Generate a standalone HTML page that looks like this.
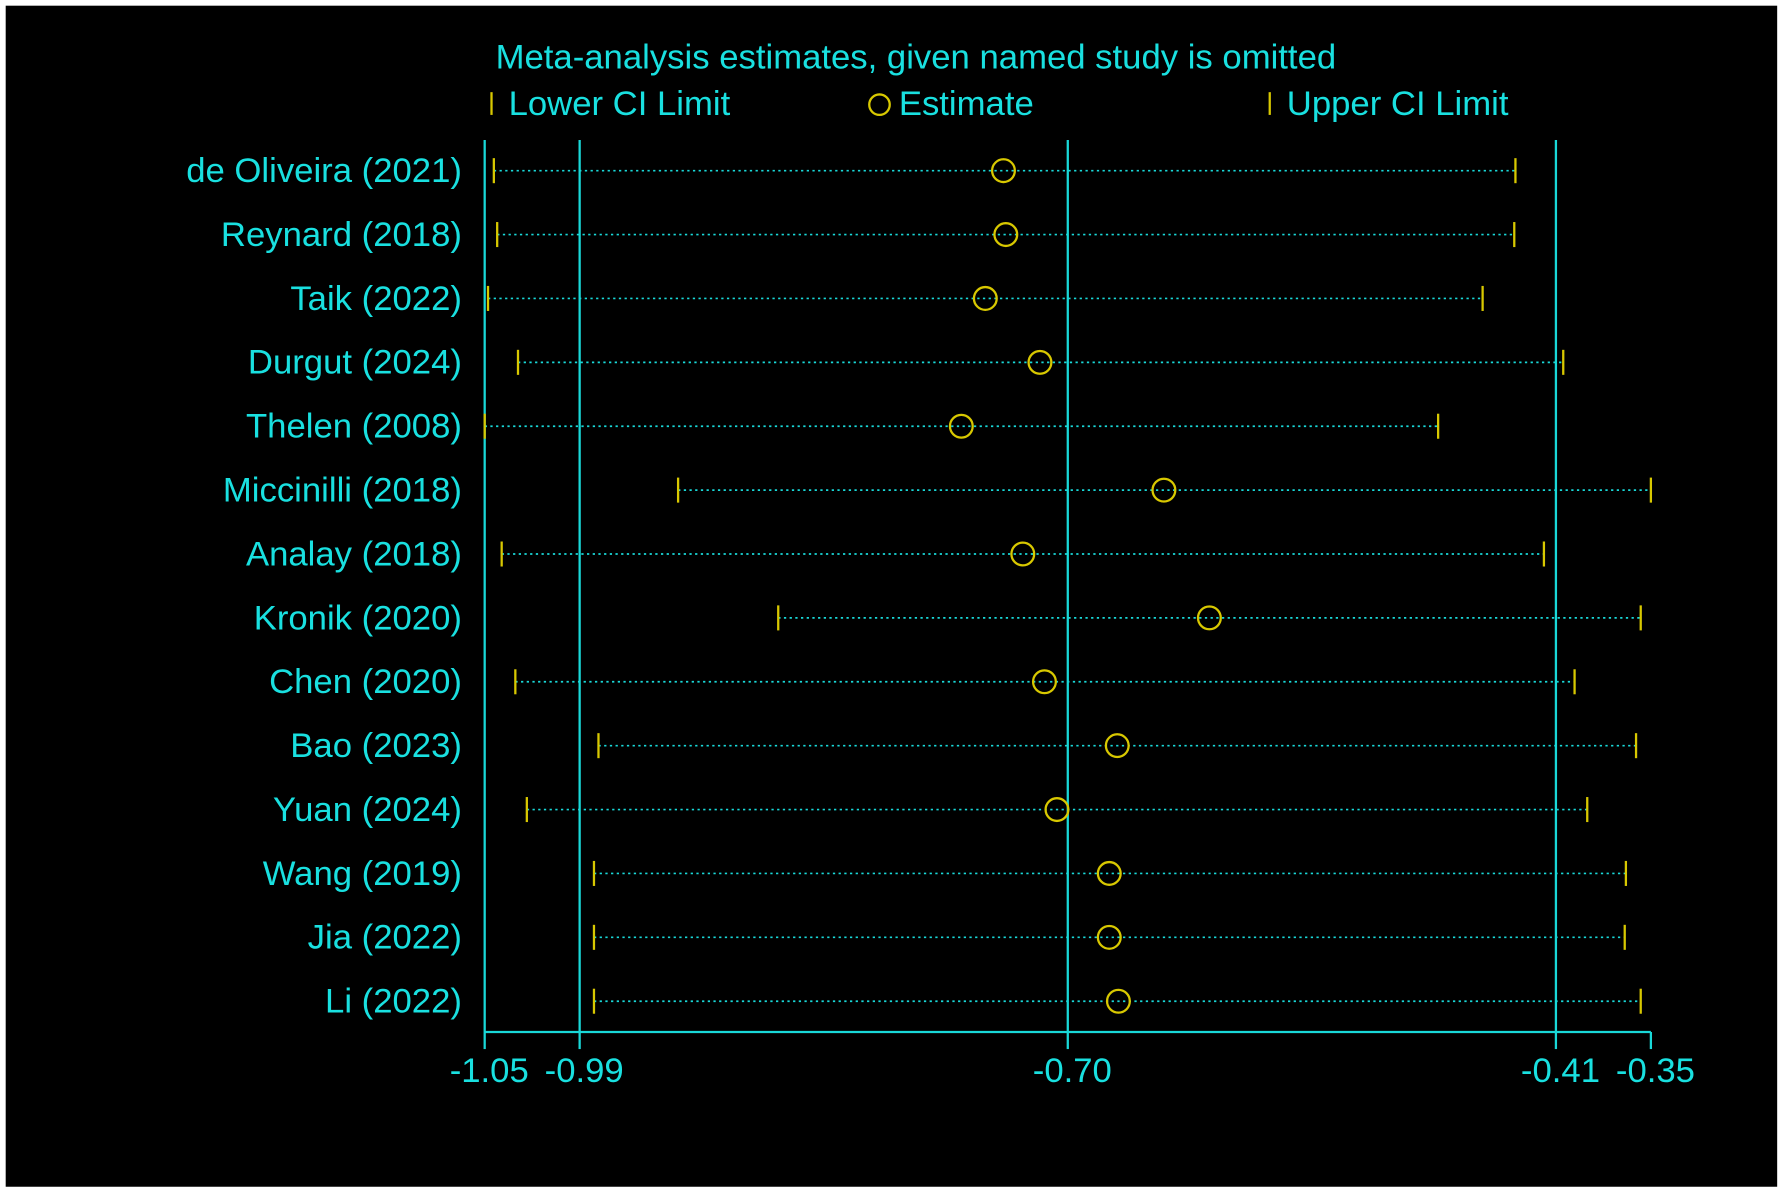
<!DOCTYPE html>
<html><head><meta charset="utf-8"><style>
html,body{margin:0;padding:0;background:#fff;}
svg{display:block;}
text{font-family:"Liberation Sans",sans-serif;fill:#19e0e0;}
</style></head><body>
<svg width="1784" height="1193" viewBox="0 0 1568 1048.5" preserveAspectRatio="none" xmlns="http://www.w3.org/2000/svg">
<rect x="5" y="5" width="1557" height="1038" fill="#000"/>
<text x="805" y="60" font-size="30.5" text-anchor="middle">Meta-analysis estimates, given named study is omitted</text>
<g>
<line x1="432" y1="81" x2="432" y2="101" stroke="#d8c800" stroke-width="2"/>
<text x="447" y="101" font-size="30.5">Lower CI Limit</text>
<circle cx="773" cy="92" r="9" fill="none" stroke="#d8c800" stroke-width="2"/>
<text x="790" y="101" font-size="30.5">Estimate</text>
<line x1="1116" y1="81" x2="1116" y2="101" stroke="#d8c800" stroke-width="2"/>
<text x="1131" y="101" font-size="30.5">Upper CI Limit</text>
</g>
<g id="plot"></g>
</svg>
<script>
const studies=["de Oliveira (2021)","Reynard (2018)","Taik (2022)","Durgut (2024)","Thelen (2008)","Miccinilli (2018)","Analay (2018)","Kronik (2020)","Chen (2020)","Bao (2023)","Yuan (2024)","Wang (2019)","Jia (2022)","Li (2022)"];
const lower=[-1.0445,-1.0425,-1.048,-1.030,-1.05,-0.9339,-1.0398,-0.8738,-1.0316,-0.9817,-1.0247,-0.9844,-0.9844,-0.9844];
const estimate=[-0.7386,-0.7372,-0.7495,-0.7167,-0.7639,-0.6423,-0.727,-0.615,-0.714,-0.6703,-0.7065,-0.6751,-0.6751,-0.6696];
const upper=[-0.4313,-0.432,-0.451,-0.4026,-0.4777,-0.35,-0.4142,-0.3561,-0.3958,-0.3589,-0.3882,-0.365,-0.3657,-0.3561];
const refValues=[-0.993,-0.70,-0.407];
const tickValues=[-1.05,-0.993,-0.70,-0.407,-0.35];
const tickLabels=["-1.05","-0.99","-0.70","-0.41","-0.35"];
const xMin=-1.05,xMax=-0.35;
const NS="http://www.w3.org/2000/svg";
const g=document.getElementById('plot');
const X=v=>426+(v-xMin)/(xMax-xMin)*1025;
const Y=i=>150+i*56.15;
function el(t,a){const e=document.createElementNS(NS,t);for(const k in a)e.setAttribute(k,a[k]);g.appendChild(e);return e;}
const CY="#19d8d8",YE="#d8c800";
let e;
e=el('line',{x1:X(xMin),y1:123,x2:X(xMin),y2:907,stroke:CY,'stroke-width':2});


refValues.forEach(v=>{e=el('line',{x1:X(v),y1:123,x2:X(v),y2:907,stroke:CY,'stroke-width':2});

});
e=el('line',{x1:X(xMin),y1:907,x2:X(xMax),y2:907,stroke:CY,'stroke-width':2});


tickValues.forEach((v,i)=>{
e=el('line',{x1:X(v),y1:907,x2:X(v),y2:922,stroke:CY,'stroke-width':2});


e=el('text',{x:X(v)+4,y:951,'font-size':30.5,'text-anchor':'middle'});
e.textContent=tickLabels[i];


});
studies.forEach((s,i)=>{
const y=Y(i);
e=el('text',{x:406,y:y+10,'font-size':30.5,'text-anchor':'end'});e.textContent=s;


e=el('line',{x1:X(lower[i]),y1:y,x2:X(upper[i]),y2:y,stroke:CY,'stroke-width':1.5,'stroke-dasharray':'2,3'});


e=el('line',{x1:X(lower[i]),y1:y-11,x2:X(lower[i]),y2:y+11,stroke:YE,'stroke-width':2});


e=el('line',{x1:X(upper[i]),y1:y-11,x2:X(upper[i]),y2:y+11,stroke:YE,'stroke-width':2});


e=el('circle',{cx:X(estimate[i]),cy:y,r:10,fill:'none',stroke:YE,'stroke-width':2});


});
</script>
</body></html>
